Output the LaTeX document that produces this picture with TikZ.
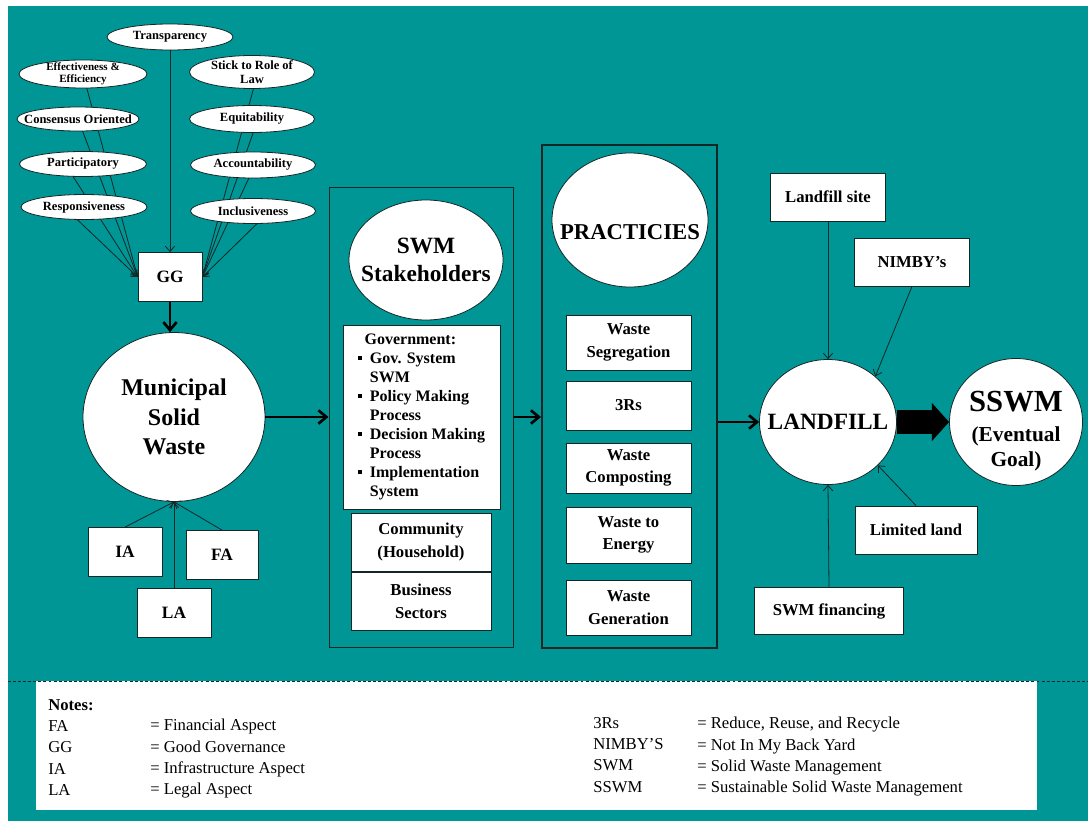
\documentclass[tikz,border=0pt]{standalone}
\usepackage{fontspec}
\setmainfont{Liberation Serif}
\usetikzlibrary{shapes.geometric,arrows.meta}
\definecolor{bgteal}{RGB}{0,150,150}
\definecolor{ln}{RGB}{20,38,38}
\pgfdeclarelayer{back}
\pgfdeclarelayer{lines}
\pgfsetlayers{back,lines,main}
\newcommand{\fs}[2]{\fontsize{#1}{#2}\selectfont}
\newcommand{\sqbul}{\makebox[9pt][l]{\rule[2.5pt]{3.2pt}{3.2pt}}}
\begin{document}
\begin{tikzpicture}[x=0.75pt,y=-0.75pt,
  sz/.style 2 args={minimum width=#1*0.75pt,minimum height=#2*0.75pt},
  lbl/.style={font=\bfseries\fs{9.4}{10},align=center,inner sep=0pt,text=black},
  ell/.style={ellipse,draw=ln,line width=0.6pt,fill=white,inner sep=0pt,label={[lbl]center:{#1}}},
  ellsm/.style={ellipse,draw=ln,line width=0.6pt,fill=white,inner sep=0pt,label={[lbl,font=\bfseries\fs{8.3}{9.3}]center:{#1}}},
  bigell/.style={ellipse,draw=ln,line width=0.6pt,fill=white,inner sep=0pt},
  wbox/.style={rectangle,draw=ln,line width=0.6pt,fill=white,inner sep=0pt,align=center,font=\bfseries\fs{12.5}{17}},
  outer/.style={rectangle,draw=ln,inner sep=0pt},
  thinarr/.style={draw=ln,line width=0.6pt,-{Straight Barb[length=4pt,width=7pt]}},
  thickarr/.style={draw=black,line width=2pt,-{Straight Barb[length=6pt,width=10pt]}},
  notecol/.style={anchor=north west,inner sep=0pt,align=left,font=\fs{12.5}{16}}
  ]
\begin{pgfonlayer}{back}
  \fill[white] (0,0) rectangle (1088,821);
  \fill[bgteal] (8,6) rectangle (1088,821);
\end{pgfonlayer}
\useasboundingbox (0,0) rectangle (1088,821);

% good governance ellipses
\node[ell={Transparency},sz={126}{26}] (tr) at (170,37) {};
\node[ellsm={Effectiveness \&\\Efficiency},sz={128}{28}] (eff) at (83,74) {};
\node[ell={Stick to Role of\\Law},sz={125}{33}] (stick) at (252,72) {};
\node[ell={Consensus Oriented},sz={122}{24}] (cons) at (78,119) {};
\node[ell={Equitability},sz={125}{27}] (equ) at (252,119) {};
\node[ell={Participatory},sz={127}{25}] (part) at (83,164) {};
\node[ell={Accountability},sz={125}{26}] (acc) at (253,165) {};
\node[ell={Responsiveness},sz={126}{25}] (resp) at (84,207) {};
\node[ell={Inclusiveness},sz={125}{25}] (incl) at (253,211) {};

\node[wbox,sz={64}{49},font=\bfseries\fs{13}{15}] (gg) at (170,277) {GG};

\node[bigell,sz={182}{169},label={[lbl,font=\bfseries\fs{18}{22}]center:{Municipal\\Solid\\Waste}}] (msw) at (174,417) {};

\node[wbox,sz={74}{49},font=\bfseries\fs{13}{15}] (ia) at (125,552) {IA};
\node[wbox,sz={72}{49},font=\bfseries\fs{13}{15}] (fa) at (222,555) {FA};
\node[wbox,sz={74}{49},font=\bfseries\fs{13}{15}] (la) at (174,613) {LA};

% stakeholders
\node[outer,line width=0.75pt,sz={184}{460}] (stk) at (421,417) {};
\node[bigell,sz={154}{120},label={[lbl,font=\bfseries\fs{17.5}{21}]center:{SWM\\Stakeholders}}] (stkell) at (426,260) {};
\node[wbox,sz={157}{184},font=\bfseries\fs{12}{14.3},align=left] (gov) at (421.5,417)
  {\hspace*{5pt}Government:\\\sqbul Gov. System\\\hspace*{9pt}SWM\\\sqbul Policy Making\\\hspace*{9pt}Process\\\sqbul Decision Making\\\hspace*{9pt}Process\\\sqbul Implementation\\\hspace*{9pt}System};
\node[wbox,sz={140}{58}] (comm) at (421,542) {Community\\(Household)};
\node[wbox,sz={140}{58}] (bus) at (421,601) {Business\\Sectors};

% practices
\node[outer,line width=1.5pt,sz={175}{503}] (prac) at (629.5,396.5) {};
\node[bigell,sz={156}{134},label={[lbl,font=\bfseries\fs{17}{20},yshift=-9pt]center:{PRACTICIES}}] (pracell) at (630,220) {};
\node[wbox,sz={125}{55}] (seg) at (628.5,342.5) {Waste\\Segregation};
\node[wbox,sz={125}{49}] (rrr) at (628.5,405.5) {3Rs};
\node[wbox,sz={125}{50}] (comp) at (628.5,468) {Waste\\Composting};
\node[wbox,sz={125}{56}] (energy) at (628.5,535) {Waste to\\Energy};
\node[wbox,sz={125}{55}] (gen) at (628.5,607.5) {Waste\\Generation};

% landfill
\node[bigell,sz={137}{125},label={[lbl,font=\bfseries\fs{17.5}{20}]center:{LANDFILL}}] (lf) at (828,422) {};
\node[bigell,sz={133}{127},label={[lbl,font=\bfseries\fs{16}{19},yshift=-7pt]center:{{\fs{23}{24}SSWM}\\[3pt](Eventual\\Goal)}}] (ss) at (1016,422) {};
\node[wbox,sz={115}{48}] (lsite) at (828,197) {Landfill site};
\node[wbox,sz={115}{48}] (nimby) at (912,262) {NIMBY’s};
\node[wbox,sz={122}{48}] (ll) at (916,530) {Limited land};
\node[wbox,sz={149}{47}] (fin) at (829,611) {SWM financing};

% connectors behind the nodes
\begin{pgfonlayer}{lines}
  \draw[thinarr] (eff.center) -- (gg.west);
  \draw[thinarr] (cons.center) -- (gg.west);
  \draw[thinarr] ([xshift=-13.5pt]part.center) -- (gg.west);
  \draw[thinarr] ([xshift=-15pt]resp.center) -- (gg.west);
  \draw[thinarr] ([xshift=4.5pt]stick.center) -- (gg.east);
  \draw[thinarr] ([xshift=4.5pt]equ.center) -- (gg.east);
  \draw[thinarr] ([xshift=1.5pt]acc.center) -- (gg.east);
  \draw[thinarr] ([xshift=12.75pt]incl.center) -- (gg.east);
  \draw[draw=black,line width=18pt,-{Triangle[length=13pt,width=28pt]}] (lf) -- (ss);
\end{pgfonlayer}
\draw[thinarr] (tr) -- (gg);
\draw[thickarr] (gg.south) -- (gg.south |- msw.north);
\draw[thinarr] (ia.north) -- (msw.south);
\draw[thinarr] (fa.north) -- (msw.south);
\draw[thinarr] (la) -- (msw);
\draw[thickarr] (msw) -- (stk);
\draw[thickarr] (stk.east) -- (stk.east -| prac.west);
\draw[thickarr] (prac.east |- lf.west) -- (lf.west);
\draw[thinarr] (lsite) -- (lf);
\draw[thinarr] (nimby.south) -- (lf.44);
\draw[thinarr] (ll.north) -- (lf.-41);
\draw[thinarr] (fin.north) -- (lf.south);

% notes
\node[fill=white,inner sep=0pt,sz={1001}{129}] (notes) at (536.5,745.5) {};
\draw[ln,line width=0.6pt,dash pattern=on 2.2pt off 1.6pt] (8,681) -- (1088,681);
\node[notecol] (n1) at (48,699) {\textbf{Notes:}\\FA\\GG\\IA\\LA};
\node[notecol] (n2) at (150,719) {= Financial Aspect\\= Good Governance\\= Infrastructure Aspect\\= Legal Aspect};
\node[notecol] (n3) at (593,717) {3Rs\\NIMBY’S\\SWM\\SSWM};
\node[notecol] (n4) at (697,717) {= Reduce, Reuse, and Recycle\\= Not In My Back Yard\\= Solid Waste Management\\= Sustainable Solid Waste Management};
\end{tikzpicture}
\end{document}
